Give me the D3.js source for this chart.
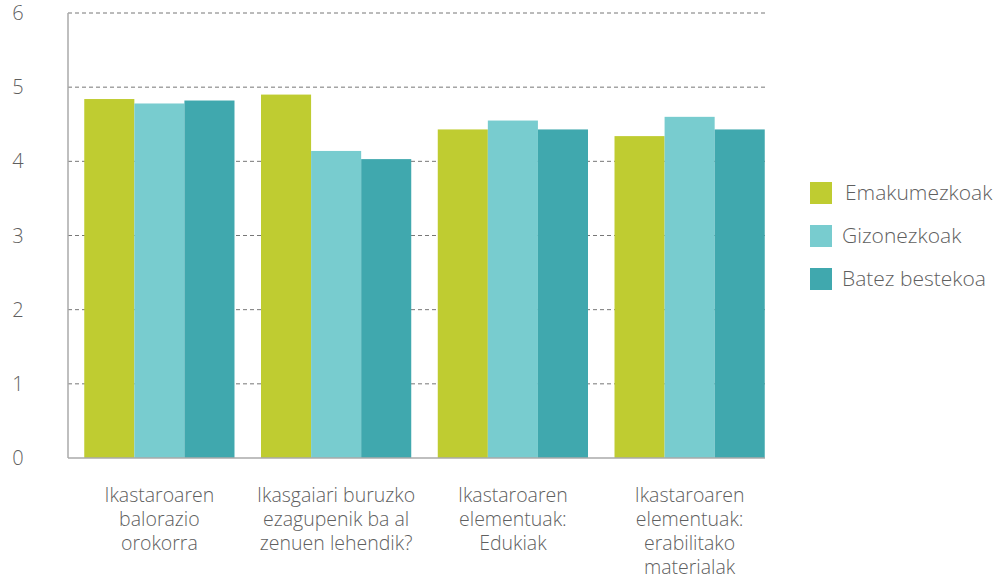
<!DOCTYPE html>
<html>
<head>
<meta charset="utf-8">
<script src="https://cdn.jsdelivr.net/npm/d3@7"></script>
<style>
  body { margin: 0; background: #fff; }
  svg text { font-family: "Open Sans", sans-serif; font-weight: 300; fill: #5f5f5f; }
</style>
</head>
<body>
<div id="chart"></div>
<script>
var categories = [
    ["Ikastaroaren", "balorazio", "orokorra"],
    ["Ikasgaiari buruzko", "ezagupenik ba al", "zenuen lehendik?"],
    ["Ikastaroaren", "elementuak:", "Edukiak"],
    ["Ikastaroaren", "elementuak:", "erabilitako", "materialak"]
]
var seriesNames = ["Emakumezkoak", "Gizonezkoak", "Batez bestekoa"]
var emakumezkoak = [4.84, 4.9, 4.43, 4.34]
var gizonezkoak = [4.78, 4.14, 4.55, 4.6]
var batezBestekoa = [4.82, 4.03, 4.43, 4.43]
var yTicks = [0, 1, 2, 3, 4, 5, 6]

function drawChart(selector){

    var colors = ["#bfcc31", "#78cccf", "#40a8ae"]
    var seriesValues = [emakumezkoak, gizonezkoak, batezBestekoa]

    var width = 1006, height = 578
    var plotLeft = 68, plotRight = 765, plotTop = 13, plotBottom = 458

    var svg = d3.select(selector)
        .append("svg")
        .attr("width", width)
        .attr("height", height)

    var y = d3.scaleLinear()
        .domain([0, 6])
        .range([plotBottom, plotTop])

    var x0 = d3.scaleBand()
        .domain(d3.range(categories.length))
        .range([71, 778])
        .paddingInner(0.15)
        .paddingOuter(0.075)

    var x1 = d3.scaleBand()
        .domain(d3.range(seriesNames.length))
        .range([0, x0.bandwidth()])

    // gridlines
    svg.selectAll(".grid")
        .data(yTicks.filter(function(d){ return d > 0 }))
        .enter().append("line")
        .attr("class", "grid")
        .attr("x1", plotLeft)
        .attr("x2", plotRight)
        .attr("y1", function(d){ return y(d) })
        .attr("y2", function(d){ return y(d) })
        .attr("stroke", "#777")
        .attr("stroke-width", 1)
        .attr("stroke-dasharray", "4,3")

    // bars
    var groups = svg.selectAll(".group")
        .data(categories)
        .enter().append("g")
        .attr("class", "group")
        .attr("transform", function(d, i){ return "translate(" + x0(i) + ",0)" })

    groups.selectAll("rect")
        .data(function(d, i){
            return seriesValues.map(function(s, j){ return {s: j, v: s[i]} })
        })
        .enter().append("rect")
        .attr("x", function(d){ return x1(d.s) })
        .attr("width", x1.bandwidth())
        .attr("y", function(d){ return y(d.v) })
        .attr("height", function(d){ return plotBottom - y(d.v) })
        .attr("fill", function(d){ return colors[d.s] })

    // axis lines
    svg.append("line")
        .attr("x1", plotLeft).attr("x2", plotLeft)
        .attr("y1", plotTop).attr("y2", plotBottom)
        .attr("stroke", "#aaa").attr("stroke-width", 1.5)
    svg.append("line")
        .attr("x1", plotLeft).attr("x2", plotRight)
        .attr("y1", plotBottom).attr("y2", plotBottom)
        .attr("stroke", "#aaa").attr("stroke-width", 1.5)

    // y tick labels
    svg.selectAll(".ytick")
        .data(yTicks)
        .enter().append("text")
        .attr("class", "ytick")
        .attr("x", 18)
        .attr("y", function(d){ return y(d) })
        .attr("dy", "0.35em")
        .attr("text-anchor", "middle")
        .style("font-size", "20px")
        .text(function(d){ return d })

    // category labels
    var labels = svg.selectAll(".xlabel")
        .data(categories)
        .enter().append("text")
        .attr("class", "xlabel")
        .attr("text-anchor", "middle")
        .style("font-size", "19.5px")
        .attr("transform", function(d, i){ return "translate(" + (x0(i) + x0.bandwidth() / 2) + ",502)" })

    labels.selectAll("tspan")
        .data(function(d){ return d })
        .enter().append("tspan")
        .attr("x", 0)
        .attr("y", function(d, i){ return i * 24 })
        .text(function(d){ return d })

    // legend
    var legend = svg.selectAll(".legend")
        .data(seriesNames)
        .enter().append("g")
        .attr("class", "legend")
        .attr("transform", function(d, i){ return "translate(810," + (182 + i * 43) + ")" })

    legend.append("rect")
        .attr("width", 22)
        .attr("height", 22)
        .attr("fill", function(d, i){ return colors[i] })

    legend.append("text")
        .attr("x", function(d, i){ return i === 0 ? 35 : 32 })
        .attr("y", 11)
        .attr("dy", "0.35em")
        .style("font-size", "21px")
        .text(function(d){ return d })
}

drawChart("#chart")
</script>
</body>
</html>
